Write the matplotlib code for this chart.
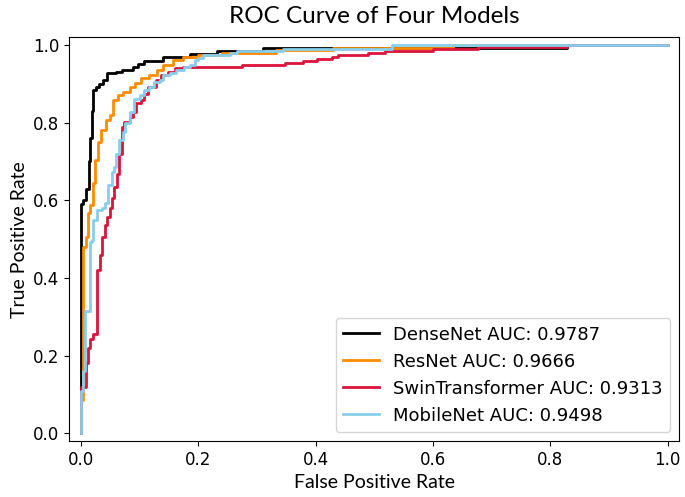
import numpy as np
import matplotlib
matplotlib.use("Agg")
import matplotlib.pyplot as plt

# ROC points (fpr, tpr level after the rise at that fpr)
dense_fpr = [0.0, 0.0, 0.004, 0.009, 0.013, 0.016, 0.019, 0.021, 0.026, 0.030, 0.037, 0.044,
             0.060, 0.069, 0.088, 0.097, 0.108, 0.140, 0.186, 0.232, 0.310, 0.828, 1.0]
dense_tpr = [0.0, 0.59, 0.60, 0.63, 0.70, 0.76, 0.83, 0.885, 0.893, 0.90, 0.91, 0.927,
             0.931, 0.936, 0.944, 0.951, 0.960, 0.969, 0.976, 0.985, 0.993, 1.0, 1.0]

res_fpr = [0.0, 0.0, 0.004, 0.008, 0.012, 0.016, 0.020, 0.024, 0.029, 0.034, 0.043, 0.049,
           0.055, 0.063, 0.072, 0.083, 0.092, 0.103, 0.115, 0.130, 0.140, 0.157, 0.174,
           0.200, 0.240, 0.333, 0.430, 0.634, 1.0]
res_tpr = [0.0, 0.085, 0.48, 0.505, 0.567, 0.587, 0.644, 0.703, 0.75, 0.78, 0.806, 0.82,
           0.858, 0.871, 0.88, 0.892, 0.901, 0.914, 0.923, 0.935, 0.948, 0.961, 0.968,
           0.975, 0.98, 0.987, 0.993, 1.0, 1.0]

swin_fpr = [0.0, 0.0, 0.008, 0.012, 0.016, 0.020, 0.027, 0.032, 0.036, 0.040, 0.044, 0.049,
            0.053, 0.057, 0.061, 0.065, 0.069, 0.074, 0.083, 0.088, 0.094, 0.103, 0.108,
            0.114, 0.128, 0.137, 0.148, 0.160, 0.174, 0.274, 0.348, 0.379, 0.402, 0.428,
            0.438, 0.490, 0.518, 0.600, 0.634, 0.677, 0.828, 1.0]
swin_tpr = [0.0, 0.12, 0.18, 0.22, 0.243, 0.256, 0.42, 0.458, 0.505, 0.536, 0.557, 0.579,
            0.605, 0.634, 0.669, 0.72, 0.789, 0.802, 0.815, 0.828, 0.85, 0.858, 0.875,
            0.892, 0.91, 0.923, 0.931, 0.94, 0.944, 0.948, 0.954, 0.96, 0.964, 0.97,
            0.974, 0.98, 0.985, 0.989, 0.991, 0.994, 1.0, 1.0]

mobile_fpr = [0.0, 0.0, 0.004, 0.007, 0.016, 0.019, 0.021, 0.027, 0.035, 0.040, 0.046, 0.052,
              0.056, 0.060, 0.065, 0.072, 0.075, 0.083, 0.091, 0.100, 0.108, 0.115, 0.125,
              0.135, 0.140, 0.152, 0.162, 0.175, 0.185, 0.194, 0.200, 0.208, 0.254, 0.266,
              0.345, 0.530, 1.0]
mobile_tpr = [0.0, 0.11, 0.16, 0.316, 0.493, 0.497, 0.549, 0.574, 0.579, 0.592, 0.639, 0.673,
              0.686, 0.72, 0.755, 0.776, 0.80, 0.828, 0.862, 0.871, 0.884, 0.892, 0.905,
              0.91, 0.923, 0.927, 0.935, 0.944, 0.948, 0.961, 0.966, 0.974, 0.979, 0.985,
              0.991, 1.0, 1.0]

labels = ["DenseNet AUC: 0.9787", "ResNet AUC: 0.9666",
          "SwinTransformer AUC: 0.9313", "MobileNet AUC: 0.9498"]
colors = ["black", "darkorange", "crimson", "skyblue"]

fig = plt.figure(figsize=(6.85, 4.97), dpi=100)
ax = fig.add_axes([0.1012, 0.1127, 0.8905, 0.8123])

curves = [(dense_fpr, dense_tpr), (res_fpr, res_tpr),
          (swin_fpr, swin_tpr), (mobile_fpr, mobile_tpr)]
for (f, t), lab, c in zip(curves, labels, colors):
    ax.plot(f, t, drawstyle="steps-post", color=c, lw=2, label=lab)

ax.set_xlim(-0.02, 1.02)
ax.set_ylim(-0.02, 1.02)
ax.tick_params(labelsize=12)

lab_font = dict(family="Lato", size=14)
ax.set_xlabel("False Positive Rate", **lab_font)
ax.set_ylabel("True Positive Rate", **lab_font)
ax.set_title("ROC Curve of Four Models", family="Lato", size=17.5, pad=10)
ax.legend(loc="lower right", fontsize=13)

fig.savefig("out.png", dpi=100)
